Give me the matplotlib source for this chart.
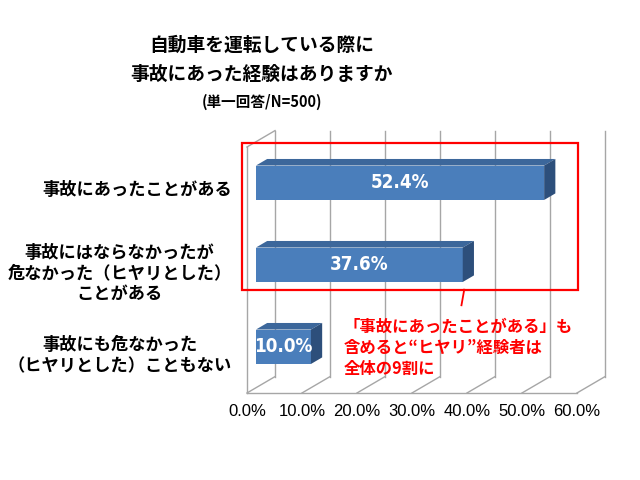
import matplotlib
matplotlib.use('Agg')
import matplotlib.pyplot as plt
from matplotlib.patches import Polygon, Rectangle

# data
categories = ['事故にあったことがある',
              '事故にはならなかったが\n危なかった（ヒヤリとした）\nことがある',
              '事故にも危なかった\n（ヒヤリとした）こともない']
values = [52.4, 37.6, 10.0]
x_ticks = [0, 10, 20, 30, 40, 50, 60]
title_lines = ['自動車を運転している際に', '事故にあった経験はありますか', '(単一回答/N=500)']
note = '「事故にあったことがある」も\n含めると“ヒヤリ”経験者は\n全体の9割に'

plt.rcParams['font.family'] = ['Noto Sans CJK JP', 'DejaVu Sans']

fig = plt.figure(figsize=(6.4, 4.8), dpi=100)
ax = fig.add_axes([0.3859, 0.18125, 0.5156, 0.5125])
ax.set_xlim(0, 60)
ax.set_ylim(2.5, -0.5)
for s in ax.spines.values():
    s.set_visible(False)

# oblique depth (data units for full depth) and bar depth range
dx, dy = 5.1, -0.2
f0, f1 = 0.32, 0.72
h = 0.21
grid_c = '#a6a6a6'
front_c = '#4a7ebb'
top_c = '#3c679b'
side_c = '#2d4f7b'

# walls and floor
for t in x_ticks:
    ax.plot([t + dx, t + dx], [-0.5 + dy, 2.5 + dy], color=grid_c, lw=1, clip_on=False, zorder=1)
    ax.plot([t, t + dx], [2.5, 2.5 + dy], color=grid_c, lw=1, clip_on=False, zorder=1)
ax.plot([0, 60], [2.5, 2.5], color=grid_c, lw=1, clip_on=False, zorder=1)
ax.plot([0, 0], [-0.5, 2.5], color=grid_c, lw=1, clip_on=False, zorder=1)
ax.plot([0, dx], [-0.5, -0.5 + dy], color=grid_c, lw=1, clip_on=False, zorder=1)

# bars
xf, xb = f0 * dx, f1 * dx
yfs = [i + f0 * dy for i in range(len(values))]
ax.barh(yfs, values, left=xf, height=2 * h, color=front_c, zorder=3)
for i, v in enumerate(values):
    yf = yfs[i]
    yb = i + f1 * dy
    ax.add_patch(Polygon([(xf, yf - h), (xf + v, yf - h), (xb + v, yb - h), (xb, yb - h)],
                         closed=True, fc=top_c, ec='none', zorder=3))
    ax.add_patch(Polygon([(xf + v, yf - h), (xf + v, yf + h), (xb + v, yb + h), (xb + v, yb - h)],
                         closed=True, fc=side_c, ec='none', zorder=3))
    ax.text(xf + v / 2, yf, f'{v:.1f}%', ha='center', va='center', color='white',
            fontsize=13.5, fontweight='bold', family='DejaVu Sans', fontstretch='condensed', zorder=4)

# axes labels
ax.set_yticks(range(len(categories)), categories)
ax.tick_params(axis='y', length=0, pad=11, labelsize=12.4)
for lbl in ax.get_yticklabels():
    lbl.set_fontweight('bold')
    lbl.set_multialignment('center')
ax.set_xticks(x_ticks, [f'{t:.1f}%' for t in x_ticks])
ax.tick_params(axis='x', length=0, pad=8, labelsize=12)
for lbl in ax.get_xticklabels():
    lbl.set_fontfamily('Liberation Sans')

# highlight box and note
ax.add_patch(Rectangle((-0.9, -0.55), 61.1, 1.79, fill=False, ec='red', lw=1.6, clip_on=False, zorder=5))
ax.plot([39.5, 39.0], [1.24, 1.43], color='red', lw=1.3, clip_on=False, zorder=5)
ax.text(17.5, 1.95, note, color='red', fontsize=11.8, fontweight='bold', ha='left', va='center',
        linespacing=1.2, zorder=5)

# title
fig.text(0.409, 0.906, title_lines[0], ha='center', va='center', fontsize=13.5, fontweight='bold')
fig.text(0.409, 0.844, title_lines[1], ha='center', va='center', fontsize=13.5, fontweight='bold')
fig.text(0.409, 0.7875, title_lines[2], ha='center', va='center', fontsize=10.5, fontweight='bold')

fig.savefig('out.png', dpi=100)
